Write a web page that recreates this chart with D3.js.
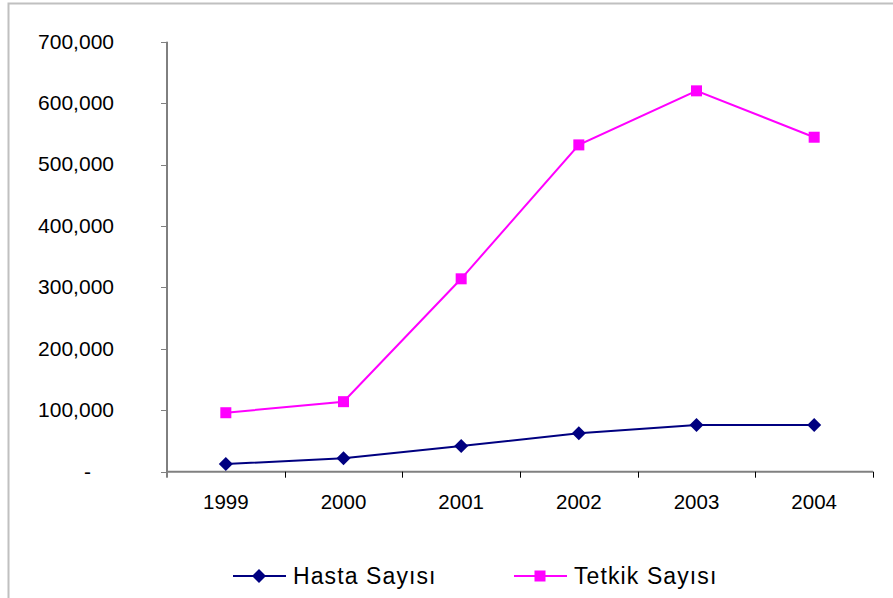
<!DOCTYPE html>
<html>
<head>
<meta charset="utf-8">
<script src="https://cdn.jsdelivr.net/npm/d3@7"></script>
<style>
  body { margin: 0; background: #fff; }
  text { font-family: "Liberation Sans", Arial, sans-serif; fill: #000; }
</style>
</head>
<body>
<div id="root"></div>
<script>
const years = ["1999", "2000", "2001", "2002", "2003", "2004"];
const hastaSayisi = [12500, 21800, 41900, 62500, 76000, 76000];
const tetkikSayisi = [96000, 114000, 314000, 532000, 620000, 544500];
const yTicks = [0, 100000, 200000, 300000, 400000, 500000, 600000, 700000];
const seriesNames = ["Hasta Sayısı", "Tetkik Sayısı"];

const width = 893, height = 598;
const svg = d3.select("#root").append("svg").attr("width", width).attr("height", height);

// outer chart border
svg.append("rect")
  .attr("x", 8.5).attr("y", 3.5)
  .attr("width", 900).attr("height", 620)
  .attr("fill", "none").attr("stroke", "#c0c0c0").attr("stroke-width", 2);

const plot = { left: 167, right: 873, top: 41.7, bottom: 471.7 };

const x = d3.scaleBand().domain(years).range([plot.left, plot.right]);
const y = d3.scaleLinear().domain([0, 700000]).range([plot.bottom, plot.top]);

const fmt = d3.format(",");

// y axis
const yAxis = svg.append("g");
yAxis.append("line")
  .attr("x1", plot.left).attr("x2", plot.left)
  .attr("y1", plot.top).attr("y2", plot.bottom + 6)
  .attr("stroke", "#000").attr("stroke-width", 1);
yAxis.selectAll(".tick").data(yTicks).enter().append("line")
  .attr("x1", plot.left - 6).attr("x2", plot.left)
  .attr("y1", d => Math.round(y(d)) + 0.5).attr("y2", d => Math.round(y(d)) + 0.5)
  .attr("stroke", "#808080");
yAxis.selectAll(".lbl").data(yTicks).enter().append("text")
  .attr("x", d => d === 0 ? 91 : 114)
  .attr("y", d => y(d))
  .attr("dy", "0.33em")
  .attr("text-anchor", "end")
  .attr("font-size", 21)
  .text(d => d === 0 ? "-" : fmt(d));

// x axis
const xAxis = svg.append("g");
xAxis.append("line")
  .attr("x1", plot.left).attr("x2", plot.right)
  .attr("y1", plot.bottom).attr("y2", plot.bottom)
  .attr("stroke", "#808080").attr("stroke-width", 2);
xAxis.selectAll(".tick").data(years.slice(1).concat(["end"])).enter().append("line")
  .attr("x1", (d, i) => Math.round(x(years[0]) + x.bandwidth() * (i + 1)) + 0.5)
  .attr("x2", (d, i) => Math.round(x(years[0]) + x.bandwidth() * (i + 1)) + 0.5)
  .attr("y1", plot.bottom).attr("y2", plot.bottom + 6)
  .attr("stroke", "#000");
xAxis.selectAll(".lbl").data(years).enter().append("text")
  .attr("x", d => x(d) + x.bandwidth() / 2)
  .attr("y", 502)
  .attr("dy", "0.36em")
  .attr("text-anchor", "middle")
  .attr("font-size", 20.5)
  .text(d => d);

const cx = d => x(d) + x.bandwidth() / 2;
const line = d3.line().x(d => cx(d.year)).y(d => y(d.value));

const series = [
  { name: seriesNames[0], values: hastaSayisi, color: "#000080", symbol: "diamond" },
  { name: seriesNames[1], values: tetkikSayisi, color: "#ff00ff", symbol: "square" }
];

function marker(g, type, color) {
  if (type === "diamond") {
    g.append("path").attr("d", "M0,-7L7,0L0,7L-7,0Z").attr("fill", color);
  } else {
    g.append("rect").attr("x", -5.5).attr("y", -5.5).attr("width", 11).attr("height", 11).attr("fill", color);
  }
}

series.forEach(s => {
  const pts = years.map((yr, i) => ({ year: yr, value: s.values[i] }));
  svg.append("path").datum(pts)
    .attr("d", line)
    .attr("fill", "none")
    .attr("stroke", s.color)
    .attr("stroke-width", 2);
  pts.forEach(p => {
    const g = svg.append("g").attr("transform", `translate(${cx(p.year)},${y(p.value)})`);
    marker(g, s.symbol, s.color);
  });
});

// legend
const legendX = [233, 514];
series.forEach((s, i) => {
  const g = svg.append("g").attr("transform", `translate(${legendX[i]},576)`);
  g.append("line").attr("x1", 0).attr("x2", 53).attr("y1", 0).attr("y2", 0)
    .attr("stroke", s.color).attr("stroke-width", 2);
  const m = g.append("g").attr("transform", "translate(26,0)");
  marker(m, s.symbol, s.color);
  g.append("text")
    .attr("x", 60).attr("y", 0).attr("dy", "0.36em")
    .attr("font-size", 23)
    .attr("letter-spacing", 1.1)
    .text(s.name);
});
</script>
</body>
</html>
